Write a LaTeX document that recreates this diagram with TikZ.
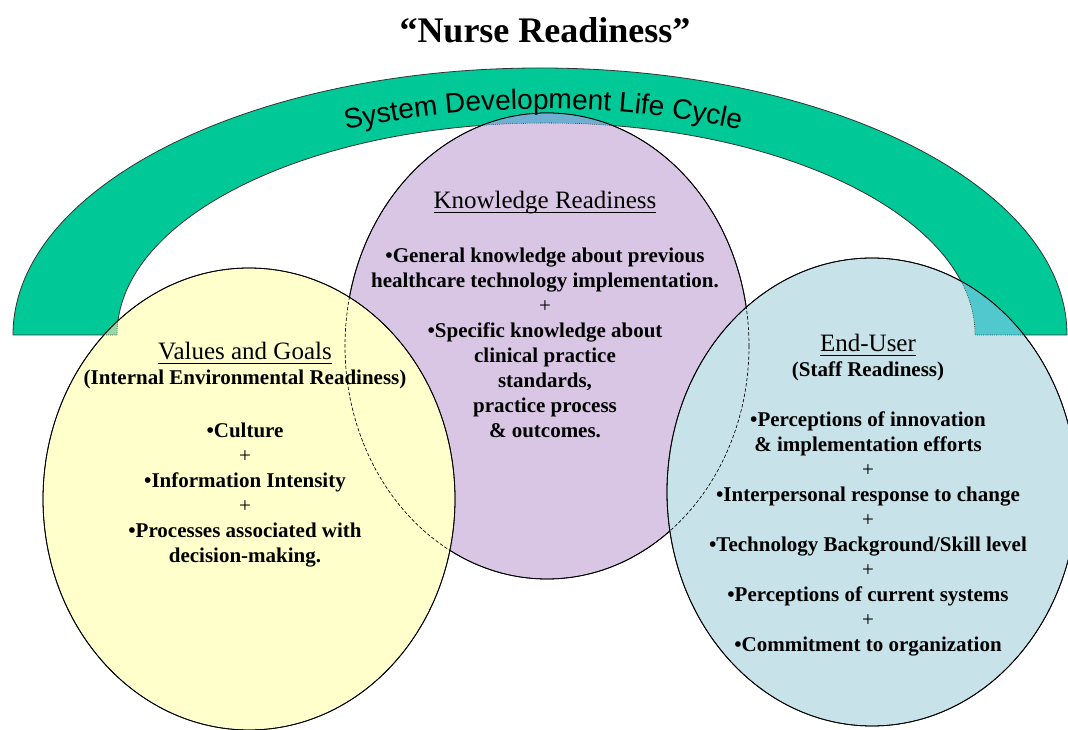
\documentclass[tikz,border=0pt]{standalone}
\usepackage{fontspec}
\setmainfont{Liberation Serif}
\newfontfamily\archfont{Liberation Sans}
\usetikzlibrary{positioning,decorations.text}

\definecolor{archgreen}{RGB}{0,200,150}
\definecolor{valyellow}{RGB}{255,255,204}
\definecolor{knowpurple}{RGB}{216,198,228}
\definecolor{userblue}{RGB}{200,226,234}
\definecolor{mixgreen}{RGB}{150,215,165}
\definecolor{mixpurple}{RGB}{110,175,210}
\definecolor{mixblue}{RGB}{80,200,205}

% outlines of the band and the three readiness ellipses
\newcommand{\archpath}{(13,335) arc[start angle=180, end angle=360, x radius=527, y radius=267] -- (975,335) arc[start angle=0, end angle=-180, x radius=429, y radius=212] -- cycle}
\newcommand{\valpath}{(249,499) ellipse [x radius=206, y radius=231]}
\newcommand{\knowpath}{(547,346) ellipse [x radius=202, y radius=233]}
\newcommand{\userpath}{(872,492) ellipse [x radius=205, y radius=234]}
\newcommand{\ulhead}[1]{\setbox0=\hbox{#1}\rlap{\rule[-3.5pt]{\wd0}{1.2pt}}\box0}

\begin{document}
\begin{tikzpicture}[x=0.75pt, y=-0.75pt, node distance=18.75pt, on grid, line width=0.6pt,
  txt/.style={inner sep=0pt, text height=0.9em, text depth=0.2em, font=\bfseries\fontsize{15.75}{18.75}\selectfont},
  pls/.style={txt, font=\fontsize{15.75}{18.75}\selectfont},
  hdr/.style={txt, font=\fontsize{18.75}{22}\selectfont},
  dashline/.style={line width=0.5pt, dash pattern=on 2.5pt off 1.5pt}]
\useasboundingbox (0,0) rectangle (1068,730);
\clip (0,0) rectangle (1068,730);

\draw[fill=archgreen, draw=black!80] \archpath;
\draw[fill=knowpurple] \knowpath;
\begin{scope}
\clip \knowpath;
\path[fill=mixpurple] \archpath;
\draw[densely dotted, line width=0.4pt] \archpath;
\end{scope}
\draw \knowpath;

\draw[fill=valyellow] \valpath;
\draw[fill=userblue] \userpath;
\begin{scope}
\clip \valpath;
\path[fill=mixgreen] \archpath;
\draw[densely dotted, line width=0.4pt] \archpath;
\draw[dashline] \knowpath;
\end{scope}
\begin{scope}
\clip \userpath;
\path[fill=mixblue] \archpath;
\draw[densely dotted, line width=0.4pt] \archpath;
\draw[dashline] \knowpath;
\end{scope}
\draw \valpath;
\draw \userpath;

\path[decorate, decoration={text along path, text align=center,
  text={|\archfont\fontsize{21}{25}\selectfont|System Development Life Cycle}}]
  (73,337) arc[start angle=180, end angle=360, x radius=470, y radius=228];

\node[font=\bfseries\fontsize{27}{32}\selectfont] (title) at (545,30) {“Nurse Readiness”};

\node[hdr] (vgHead) at (245,355) {\ulhead{Values and Goals}};
\node[txt, below of=vgHead] (vgSub) {(Internal Environmental Readiness)};
\node[txt, below of=vgSub, node distance=39.75pt] (vgCulture) {•Culture};
\node[pls, below of=vgCulture] (vgPlusA) {+};
\node[txt, below of=vgPlusA] (vgInfo) {•Information Intensity};
\node[pls, below of=vgInfo] (vgPlusB) {+};
\node[txt, below of=vgPlusB] (vgProc) {•Processes associated with};
\node[txt, below of=vgProc] (vgDecide) {decision-making.};

\node[hdr] (krHead) at (545,204) {\ulhead{Knowledge Readiness}};
\node[txt, below of=krHead, node distance=40.5pt] (krGen) {•General knowledge about previous};
\node[txt, below of=krGen] (krHealth) {healthcare technology implementation.};
\node[pls, below of=krHealth] (krPlus) {+};
\node[txt, below of=krPlus] (krSpec) {•Specific knowledge about};
\node[txt, below of=krSpec] (krClin) {clinical practice};
\node[txt, below of=krClin] (krStd) {standards,};
\node[txt, below of=krStd] (krProc) {practice process};
\node[txt, below of=krProc] (krOut) {\& outcomes.};

\node[hdr] (euHead) at (868,347) {\ulhead{End-User}};
\node[txt, below of=euHead] (euSub) {(Staff Readiness)};
\node[txt, below of=euSub, node distance=37.5pt] (euInnov) {•Perceptions of innovation};
\node[txt, below of=euInnov] (euEffort) {\& implementation efforts};
\node[pls, below of=euEffort] (euPlusA) {+};
\node[txt, below of=euPlusA] (euInter) {•Interpersonal response to change};
\node[pls, below of=euInter] (euPlusB) {+};
\node[txt, below of=euPlusB] (euTech) {•Technology Background/Skill level};
\node[pls, below of=euTech] (euPlusC) {+};
\node[txt, below of=euPlusC] (euCurr) {•Perceptions of current systems};
\node[pls, below of=euCurr] (euPlusD) {+};
\node[txt, below of=euPlusD] (euCommit) {•Commitment to organization};
\end{tikzpicture}
\end{document}
